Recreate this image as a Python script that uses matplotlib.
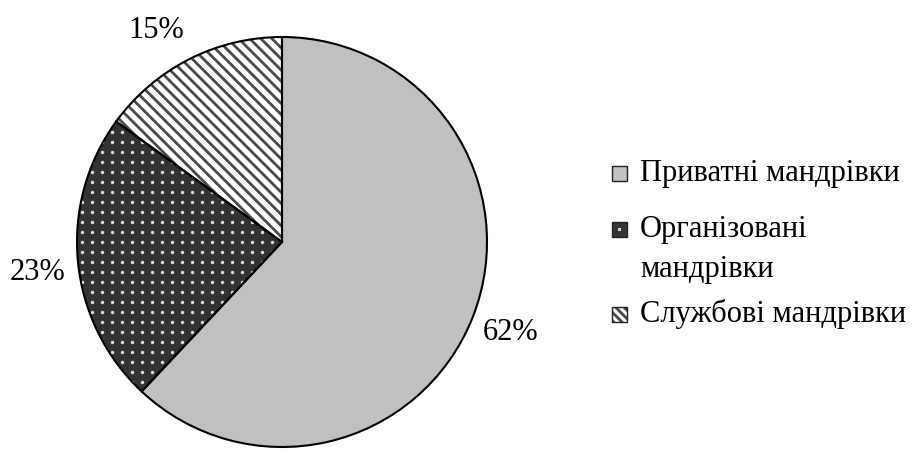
import matplotlib
matplotlib.use('Agg')
import numpy as np
import matplotlib.pyplot as plt
from matplotlib.patches import Rectangle

plt.rcParams['font.family'] = ['Liberation Serif', 'DejaVu Serif']
plt.rcParams['hatch.linewidth'] = 2.0

# data
categories = ['Приватні мандрівки', 'Організовані\nмандрівки', 'Службові мандрівки']
values = [62, 23, 15]

# styles
face_colors = ['#c0c0c0', '#333333', '#ffffff']
hatches = [None, None, '\\\\\\']
hatch_colors = ['#c0c0c0', '#333333', '#4a4a4a']
label_shift = [0.0, 1.8, 3.8]   # small angular nudges (deg) like the original layout

W, H = 913, 450
fig = plt.figure(figsize=(W / 100, H / 100), dpi=100)
cx, cy, r = 282, 242, 205
ax = fig.add_axes([(cx - r) / W, (H - cy - r) / H, 2 * r / W, 2 * r / H])

wedges, texts = ax.pie(values, colors=face_colors, startangle=90, counterclock=False)
for w, h, hc in zip(wedges, hatches, hatch_colors):
    w.set_edgecolor(hc)
    w.set_linewidth(0)
    if h:
        w.set_hatch(h)

# dotted texture for the dark wedge
step = 10 / r
g = np.arange(-1, 1, step) + step / 2
gx, gy = np.meshgrid(g, g)
dots = ax.scatter(gx.ravel(), gy.ravel(), s=6, color='#e0e0e0', linewidths=0, zorder=3)
dots.set_clip_path(wedges[1])

# black outlines on top
outl, _ = ax.pie(values, startangle=90, counterclock=False,
                 wedgeprops=dict(fill=False, edgecolor='black', linewidth=1.5, zorder=4))

# percentage labels outside the pie
for w, v, sh in zip(wedges, values, label_shift):
    ang = np.deg2rad((w.theta1 + w.theta2) / 2 + sh)
    ax.text(1.2 * np.cos(ang), 1.2 * np.sin(ang), f'{v}%', fontsize=22,
            ha='center', va='center')

ax.set_xlim(-1, 1)
ax.set_ylim(-1, 1)
ax.set_aspect('equal')
ax.axis('off')

# legend drawn by hand to follow the original layout
leg_y = [173, 249, 314]
box_y = [173, 229, 314]
leg_hatch = [None, None, '\\\\\\\\']
box = 15
for i, (lab, fc, h, hc, ty, by) in enumerate(zip(categories, face_colors, leg_hatch,
                                                 hatch_colors, leg_y, box_y)):
    x0, y0 = 612 / W, (H - by - box / 2) / H
    fig.add_artist(Rectangle((x0, y0), box / W, box / H, transform=fig.transFigure,
                             facecolor=fc, edgecolor=hc, hatch=h, linewidth=0))
    if i == 1:
        d = 3
        fig.add_artist(Rectangle(((612 + box / 2 - d / 2) / W, (H - by - d / 2) / H), d / W, d / H,
                                 transform=fig.transFigure, facecolor='#d0d0d0', linewidth=0))
    fig.add_artist(Rectangle((x0, y0), box / W, box / H, transform=fig.transFigure,
                             fill=False, edgecolor='#222222', linewidth=1.0))
    fig.text(640 / W, (H - ty) / H, lab, fontsize=22, ha='left', va='center',
             linespacing=1.5)

fig.savefig('out.png', dpi=100)
